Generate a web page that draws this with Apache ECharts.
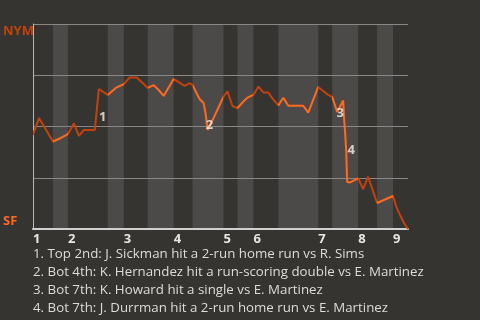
<!DOCTYPE html>
<html><head><meta charset="utf-8">
<script src="https://cdn.jsdelivr.net/npm/echarts@6/dist/echarts.min.js"></script>
<style>html,body{margin:0;padding:0;background:#363430;}#c{width:480px;height:320px;}</style>
</head><body><div id="c"></div>
<script>
// game progress (x) and win probability toward NYM (y, 0 = SF, 1 = NYM)
const progress = [0,3,10,14,17.5,20.5,23,25.5,31,33,37.5,41.5,45.5,48.5,52,55.5,57.5,60.5,63,65.5,70.5,76,78.5,80,83.5,85.5,86.5,87.5,90.5,95.5,97.5,100,102.5,105.5,107.5,110.5,113,115.5,118,120,123,125.5,128,135.5,138,143,148,150,152.5,155.5,156,156.5,157,157.5,159,163,165.5,168,172.5,180.5,182,184,186,188];
const winProb = [0.459,0.541,0.427,0.444,0.463,0.515,0.454,0.483,0.483,0.683,0.654,0.688,0.707,0.739,0.739,0.707,0.688,0.702,0.678,0.649,0.732,0.698,0.712,0.702,0.634,0.615,0.566,0.483,0.541,0.645,0.671,0.6,0.59,0.622,0.641,0.654,0.695,0.666,0.666,0.637,0.603,0.64,0.601,0.601,0.568,0.693,0.654,0.644,0.571,0.627,0.532,0.468,0.385,0.229,0.227,0.247,0.195,0.255,0.127,0.161,0.112,0.068,0.029,0];
// half-inning start positions
const topStarts = [0,17.5,45.5,70.5,95.5,110.5,143,163,180.5];
const botStarts = [10,37.5,57.5,80,102.5,123,150,172.5];
const gameEnd = 188;
const inningLabels = ['1','2','3','4','5','6','7','8','9'];
// key events
const eventX = [35,88.5,154,159.5];
const eventY = [0.546,0.507,0.566,0.385];
const eventNames = ['1','2','3','4'];
const eventTexts = [
  '1. Top 2nd: J. Sickman hit a 2-run home run vs R. Sims',
  '2. Bot 4th: K. Hernandez hit a run-scoring double vs E. Martinez',
  '3. Bot 7th: K. Howard hit a single vs E. Martinez',
  '4. Bot 7th: J. Durrman hit a 2-run home run vs E. Martinez'
];
const teamLabels = ['NYM','SF'];
const teamLabelPos = [0.962,0.039];

const DARK='#c2410c', BRIGHT='#ff6a1f';
const stripes = botStarts.map((b,i)=>{
  const end = topStarts[i+1];
  return [{xAxis:b},{xAxis:end}];
});
const pieces = [];
topStarts.forEach((t,i)=>{
  const e = botStarts[i]!==undefined ? botStarts[i] : gameEnd+1;
  pieces.push({gte:t, lt:e, color:DARK});
  if (botStarts[i]!==undefined) pieces.push({gte:botStarts[i], lt:topStarts[i+1], color:BRIGHT});
});

const chart = echarts.init(document.getElementById('c'), null, {renderer:'canvas'});
chart.setOption({
  backgroundColor:'#363430',
  animation:false,
  graphic: eventTexts.map((t,i)=>({
    type:'text', left:33, top:248 + i*18, silent:true,
    style:{text:t, fill:'#dedcda', font:'13.3px "Open Sans"'}
  })),
  grid:{left:32, right:72, top:24, bottom:91},
  xAxis:{
    type:'value', min:0, max:gameEnd, z:2,
    axisLine:{show:true, lineStyle:{color:'#d0d0d0', width:2}},
    axisTick:{show:false},
    splitLine:{show:false},
    axisLabel:{
      customValues:topStarts, align:'left', margin:4,
      formatter:(v)=>inningLabels[topStarts.indexOf(v)],
      color:'#e8e6e4', fontFamily:'Open Sans', fontWeight:'bold', fontSize:13
    }
  },
  yAxis:{
    type:'value', min:0, max:1, interval:0.25, z:2,
    axisLine:{show:true, lineStyle:{color:'#b8b8b8', width:1}},
    axisTick:{show:false},
    splitLine:{show:true, lineStyle:{color:'#8a8886', width:1}},
    axisLabel:{
      customValues:teamLabelPos, align:'left', margin:30,
      formatter:(v)=>teamLabels[teamLabelPos.indexOf(v)],
      color:(v)=> (v>0.5?DARK:BRIGHT),
      fontFamily:'Open Sans', fontWeight:'bold', fontSize:13
    }
  },
  visualMap:{type:'piecewise', show:false, dimension:0, seriesIndex:1, pieces:pieces},
  series:[
    {type:'line', z:1, data:[], silent:true,
     markArea:{silent:true, itemStyle:{color:'#4c4a48'}, data:stripes}},
    {type:'line', z:3, showSymbol:false, symbol:'none',
     data:progress.map((x,i)=>[x,winProb[i]]),
     lineStyle:{width:2}},
    {type:'scatter', z:4, symbolSize:0, silent:true,
     data:eventX.map((x,i)=>[x,eventY[i]]),
     label:{show:true, position:'inside', formatter:(p)=>eventNames[p.dataIndex],
       color:'#f2f2f2', fontFamily:'Open Sans', fontWeight:'bold', fontSize:13}}
  ]
});
</script></body></html>
